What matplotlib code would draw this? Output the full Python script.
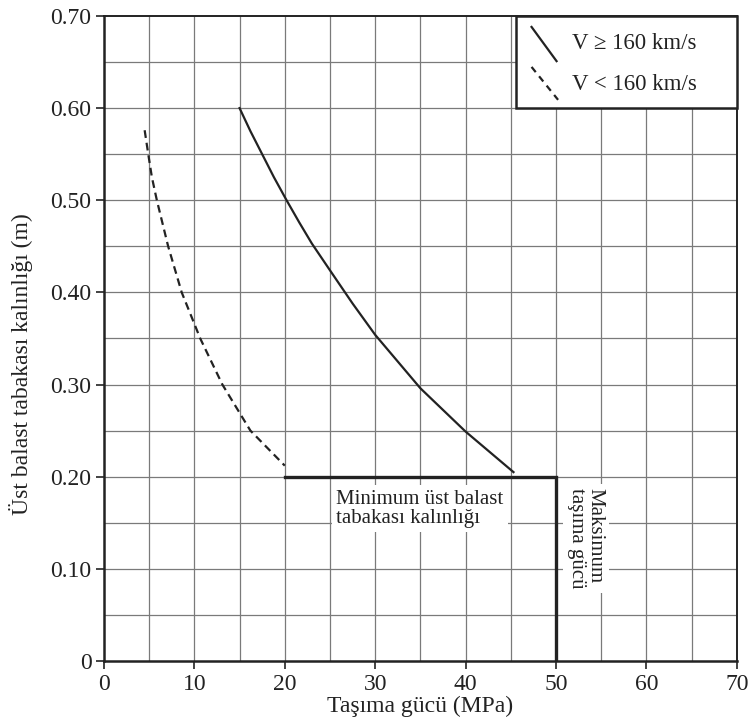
import matplotlib
matplotlib.use("Agg")
import matplotlib.pyplot as plt
from matplotlib.patches import Rectangle
from matplotlib.lines import Line2D

plt.rcParams['font.family'] = ['Liberation Serif', 'DejaVu Serif']

# Data
solid_x = [15.0, 16.2, 17.5, 18.8, 20.2, 21.6, 23.0, 25.0, 27.5, 30.0, 35.0, 40.0, 45.3]
solid_y = [0.600, 0.575, 0.550, 0.525, 0.500, 0.476, 0.453, 0.424, 0.388, 0.354, 0.296, 0.249, 0.205]
dash_x = [4.5, 4.9, 5.3, 5.85, 7.1, 8.6, 10.65, 13.1, 16.2, 20.0]
dash_y = [0.576, 0.550, 0.525, 0.500, 0.450, 0.400, 0.350, 0.300, 0.250, 0.212]
limit_x = [20, 50, 50]
limit_y = [0.20, 0.20, 0.0]

xticks = [0, 10, 20, 30, 40, 50, 60, 70]
yticks = [0, 0.10, 0.20, 0.30, 0.40, 0.50, 0.60, 0.70]
ytick_labels = ["0", "0.10", "0.20", "0.30", "0.40", "0.50", "0.60", "0.70"]
legend_labels = ["V \u2265 160 km/s", "V < 160 km/s"]

ink = "#222222"
fig = plt.figure(figsize=(7.48, 7.26), dpi=100)
ax = fig.add_axes([0.139, 0.0895, 0.846, 0.8885])
ax.set_xlim(0, 70)
ax.set_ylim(0, 0.70)

# grid
for gx in range(5, 70, 5):
    ax.axvline(gx, color="#7a7a7a", lw=0.9, zorder=1)
for i in range(1, 14):
    ax.axhline(i * 0.05, color="#7a7a7a", lw=0.9, zorder=1)

ax.plot(solid_x, solid_y, color=ink, lw=1.6, zorder=3)
ax.plot(dash_x, dash_y, color=ink, lw=1.6, dashes=(3.5, 2.2), zorder=3)
ax.plot(limit_x, limit_y, color=ink, lw=2.4, zorder=4, solid_joinstyle="miter")

ax.set_xticks(xticks)
ax.set_yticks(yticks)
ax.set_yticklabels(ytick_labels)
ax.tick_params(axis="both", direction="out", length=6, width=1.2, labelsize=17, colors=ink, pad=3)
for s in ax.spines.values():
    s.set_color(ink)
ax.spines["left"].set_linewidth(1.8)
ax.spines["bottom"].set_linewidth(1.8)
ax.spines["top"].set_linewidth(1.4)
ax.spines["right"].set_linewidth(1.4)

ax.set_xlabel("Taşıma gücü (MPa)", fontsize=17, color=ink, labelpad=1)
ax.set_ylabel("Üst balast tabakası kalınlığı (m)", fontsize=17, color=ink)
ax.yaxis.set_label_coords(-0.112, 0.46)

# annotations
ax.text(25.7, 0.165, "Minimum üst balast\ntabakası kalınlığı", fontsize=15, color=ink,
        ha="left", va="center", linespacing=1.05, zorder=3,
        bbox=dict(facecolor="white", edgecolor="none", pad=3))
ax.text(53.3, 0.188, "Maksimum\ntaşıma gücü", fontsize=15, color=ink, rotation=-90,
        ha="center", va="top", multialignment="left", linespacing=1.0, zorder=3,
        bbox=dict(facecolor="white", edgecolor="none", pad=3))

# legend box
ax.add_patch(Rectangle((0.6514, 0.857), 0.3486, 0.143, transform=ax.transAxes,
                       facecolor="white", edgecolor=ink, lw=1.8, zorder=5, clip_on=False))
ax.add_line(Line2D([0.6757, 0.7152], [0.983, 0.930], transform=ax.transAxes,
                   color=ink, lw=1.6, zorder=6))
ax.add_line(Line2D([0.6757, 0.7176], [0.921, 0.870], transform=ax.transAxes,
                   color=ink, lw=1.6, dashes=(3.0, 2.4), zorder=6))
ax.text(0.739, 0.958, legend_labels[0], transform=ax.transAxes, fontsize=16.5,
        color=ink, ha="left", va="center", zorder=6)
ax.text(0.739, 0.893, legend_labels[1], transform=ax.transAxes, fontsize=16.5,
        color=ink, ha="left", va="center", zorder=6)

fig.savefig("out.png", dpi=100)
